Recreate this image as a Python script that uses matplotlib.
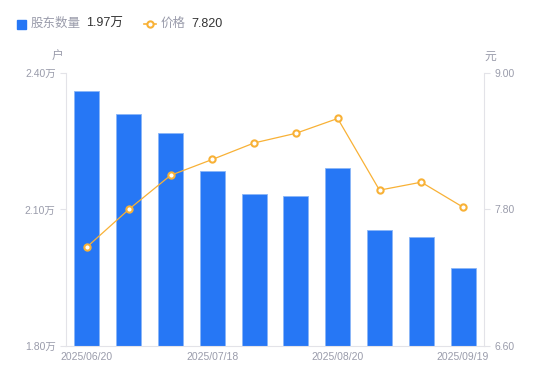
import numpy as np
import matplotlib
matplotlib.use('Agg')
import matplotlib.pyplot as plt

plt.rcParams['font.family'] = ['Liberation Sans', 'Noto Sans CJK SC', 'DejaVu Sans']

dates = ['2025/06/20', '2025/06/30', '2025/07/10', '2025/07/18', '2025/07/31',
         '2025/08/08', '2025/08/20', '2025/08/31', '2025/09/10', '2025/09/19']
holders = [2.360, 2.310, 2.268, 2.185, 2.134, 2.130, 2.191, 2.055, 2.040, 1.971]  # 万户
price = [7.47, 7.80, 8.10, 8.24, 8.385, 8.47, 8.60, 7.97, 8.04, 7.82]
tick_idx = [0, 3, 6, 9]

blue = '#2677F5'
orange = '#F8B136'
grey = '#9a9cab'
axis_c = '#e3e3e8'

fig = plt.figure(figsize=(5.5, 3.81), dpi=100)
ax = fig.add_axes([0.12, 0.0919, 0.76, 0.7165])
ax2 = ax.twinx()

x = np.arange(len(dates))
ax.bar(x, holders, width=0.6, color=blue, edgecolor='#8ab6f7', linewidth=0.6, zorder=2)
ax.set_xlim(-0.5, len(dates) - 0.5)
ax.set_ylim(1.80, 2.40)
ax.set_yticks([1.80, 2.10, 2.40])
ax.set_yticklabels(['1.80万', '2.10万', '2.40万'])

ax2.plot(x, price, color=orange, linewidth=0.9, marker='o', markersize=4.5,
         markerfacecolor='white', markeredgecolor=orange, markeredgewidth=1.5, zorder=3)
ax2.set_ylim(6.60, 9.00)
ax2.set_yticks([6.60, 7.80, 9.00])
ax2.set_yticklabels(['6.60', '7.80', '9.00'])

ax.set_xticks(tick_idx)
ax.set_xticklabels([dates[i] for i in tick_idx])

for a in (ax, ax2):
    for s in a.spines.values():
        s.set_visible(False)
    a.tick_params(colors=grey, labelsize=7.5, length=4, width=0.8)
    a.tick_params(axis='y', color=axis_c)
ax.spines['left'].set_visible(True)
ax.spines['left'].set_color(axis_c)
ax.spines['bottom'].set_visible(True)
ax.spines['bottom'].set_color(axis_c)
ax2.spines['right'].set_visible(True)
ax2.spines['right'].set_color(axis_c)
ax.tick_params(axis='x', length=0, pad=4)
ax.set_zorder(ax2.get_zorder() - 1)
ax2.patch.set_visible(False)

fig.text(58 / 550, 1 - 57 / 381, '户', color=grey, fontsize=8.5, ha='center', va='center')
fig.text(490 / 550, 1 - 57 / 381, '元', color=grey, fontsize=8.5, ha='center', va='center')

# legend
fig.patches.append(plt.Rectangle((17 / 550, 1 - 28.5 / 381), 8.5 / 550, 8.5 / 381,
                                 transform=fig.transFigure, color=blue, figure=fig))
fig.text(31 / 550, 1 - 24 / 381, '股东数量', color=grey, fontsize=9, va='center')
fig.text(86 / 550, 1 - 24 / 381, '1.97万', color='#333333', fontsize=9, va='center')
fig.lines.append(plt.Line2D([144 / 550, 156 / 550], [1 - 24 / 381, 1 - 24 / 381],
                            transform=fig.transFigure, color=orange, linewidth=1.2))
fig.lines.append(plt.Line2D([150 / 550], [1 - 24 / 381], transform=fig.transFigure,
                            marker='o', markersize=4.5, markerfacecolor='white',
                            markeredgecolor=orange, markeredgewidth=1.5, linestyle='none'))
fig.text(161 / 550, 1 - 24 / 381, '价格', color=grey, fontsize=9, va='center')
fig.text(191 / 550, 1 - 24 / 381, '7.820', color='#333333', fontsize=9, va='center')

fig.savefig('out.png', dpi=100)
